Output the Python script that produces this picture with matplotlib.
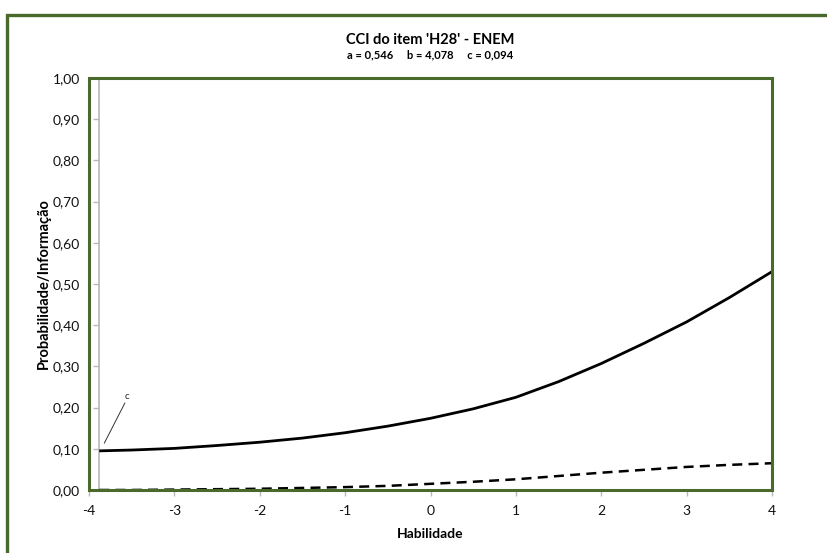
import matplotlib
matplotlib.use("Agg")
import matplotlib.pyplot as plt
from matplotlib.patches import Rectangle

# Data
theta = [-3.88, -3.5, -3.0, -2.5, -2.0, -1.5, -1.0, -0.5, 0.0, 0.5, 1.0, 1.5, 2.0, 2.5, 3.0, 3.5, 4.0]
prob = [0.095, 0.097, 0.101, 0.108, 0.116, 0.126, 0.139, 0.155, 0.174, 0.197, 0.225, 0.263,
        0.307, 0.356, 0.408, 0.467, 0.530]
info = [0.000, 0.000, 0.001, 0.002, 0.003, 0.005, 0.007, 0.010, 0.015, 0.020, 0.026, 0.034,
        0.042, 0.049, 0.056, 0.061, 0.065]
xticks = [-4, -3, -2, -1, 0, 1, 2, 3, 4]
yticks = [0.0, 0.1, 0.2, 0.3, 0.4, 0.5, 0.6, 0.7, 0.8, 0.9, 1.0]
ytick_labels = ["0,00", "0,10", "0,20", "0,30", "0,40", "0,50", "0,60", "0,70", "0,80", "0,90", "1,00"]
title = "CCI do item 'H28' - ENEM"
subtitle = "a = 0,546     b = 4,078     c = 0,094"
c_axis_x = -3.88
c_label_xy = (-3.55, 0.228)
c_line = ([-3.82, -3.58], [0.114, 0.211])

plt.rcParams['font.family'] = ['Lato', 'DejaVu Sans']

GREEN = '#4a6a2c'
GRAY = '#b8b8b8'

fig = plt.figure(figsize=(8.27, 5.53), dpi=100)
W, H = 827, 553
# outer chart border
fig.patches.append(Rectangle((7 / W, -0.1), 1.2, 1 - 15 / H + 0.1, transform=fig.transFigure,
                             fill=False, edgecolor=GREEN, linewidth=2.4))

ax = fig.add_axes([89 / W, 1 - 490 / H, (772 - 89) / W, (490 - 78) / H])
ax.set_xlim(-4, 4)
ax.set_ylim(0, 1)

ax.plot(theta, prob, color='black', lw=2.0, solid_capstyle='butt', zorder=3)
ax.plot(theta, info, color='black', lw=1.8, linestyle=(0, (4, 2.5)), zorder=3)

# annotation "c"
ax.plot(c_line[0], c_line[1], color='#333333', lw=0.7, zorder=3)
ax.text(c_label_xy[0], c_label_xy[1], "c", fontsize=7, ha='center', va='center', color='#222222')

for s in ['top', 'right', 'bottom']:
    ax.spines[s].set_visible(False)
ax.spines['left'].set_position(('data', c_axis_x))
ax.spines['left'].set_color(GRAY)
ax.spines['left'].set_linewidth(1.2)
ax.add_patch(Rectangle((0, 0), 1, 1, transform=ax.transAxes, fill=False,
                       edgecolor=GREEN, linewidth=2.2, clip_on=False, zorder=5))

ax.set_xticks(xticks)
ax.set_xticklabels([str(v) for v in xticks])
ax.set_yticks(yticks)
ax.set_yticklabels(ytick_labels)
ax.tick_params(axis='both', colors=GRAY, length=4, width=1, labelsize=10, labelcolor='#111111')
ax.tick_params(axis='y', pad=10)
ax.tick_params(axis='x', pad=7)

ax.set_xlabel("Habilidade", fontsize=10, fontweight='bold', labelpad=8)
ax.set_ylabel("Probabilidade/Informação", fontsize=10.5, fontweight='bold', labelpad=1)

fig.text(430 / W, 1 - 40 / H, title, ha='center', va='center', fontsize=10.5, fontweight='bold')
fig.text(430 / W, 1 - 55 / H, subtitle, ha='center', va='center', fontsize=8, fontweight='bold')

fig.savefig("out.png", dpi=100)
